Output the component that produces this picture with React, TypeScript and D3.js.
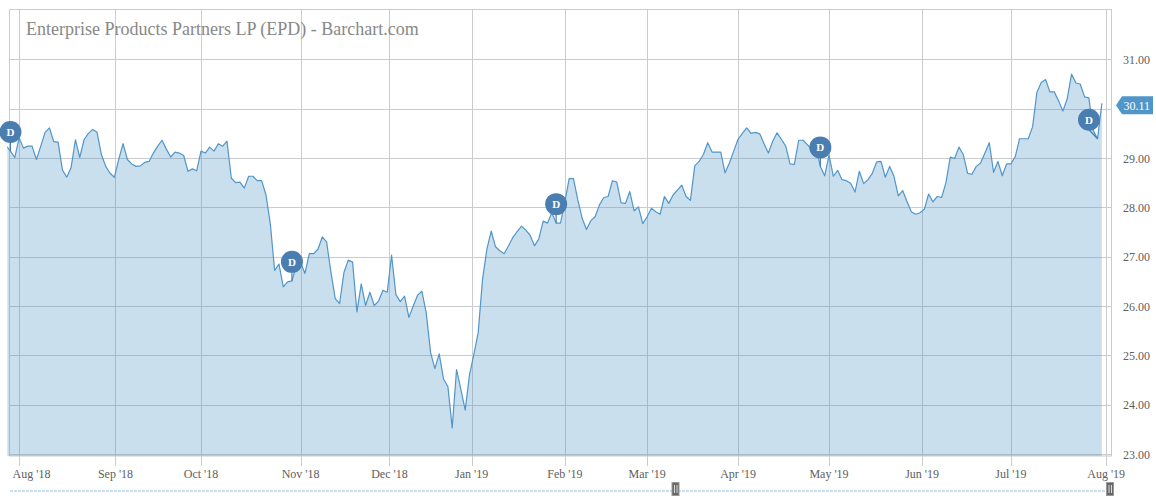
import React from 'react';
import * as d3 from 'd3';

// Daily closes (trading days), Jul 27 2018 .. Jul 31 2019
const prices: number[] = [
  29.25, 29.14, 29.01, 29.41, 29.20, 29.24, 29.24, 28.97, 29.24, 29.52,
  29.61, 29.33, 29.32, 28.76, 28.61, 28.80, 29.37, 29.01, 29.37, 29.50,
  29.58, 29.52, 29.07, 28.83, 28.69, 28.61, 28.97, 29.29, 28.97, 28.88,
  28.83, 28.84, 28.91, 28.93, 29.10, 29.24, 29.36, 29.18, 29.02, 29.12,
  29.10, 29.05, 28.73, 28.78, 28.74, 29.14, 29.10, 29.22, 29.14, 29.29,
  29.24, 29.34, 28.59, 28.50, 28.51, 28.39, 28.63, 28.63, 28.54, 28.54,
  28.25, 27.67, 26.72, 26.85, 26.39, 26.49, 26.51, 26.82, 26.88, 26.66,
  27.06, 27.06, 27.15, 27.40, 27.30, 26.68, 26.15, 26.05, 26.68, 26.93,
  26.89, 25.88, 26.45, 26.01, 26.28, 26.01, 26.10, 26.32, 26.28, 27.03,
  26.23, 26.09, 26.20, 25.77, 26.00, 26.22, 26.30, 25.86, 25.06, 24.73,
  25.03, 24.52, 24.37, 23.53, 24.71, 24.31, 23.89, 24.61, 25.02, 25.46,
  26.54, 27.15, 27.52, 27.20, 27.12, 27.06, 27.22, 27.39, 27.51, 27.62,
  27.54, 27.43, 27.22, 27.36, 27.72, 27.68, 27.89, 27.68, 27.68, 28.10,
  28.58, 28.58, 28.15, 27.78, 27.55, 27.73, 27.81, 28.05, 28.20, 28.22,
  28.54, 28.51, 28.09, 28.08, 28.32, 27.93, 28.01, 27.67, 27.81, 27.98,
  27.91, 27.86, 28.22, 28.08, 28.25, 28.35, 28.45, 28.22, 28.14, 28.84,
  28.93, 29.07, 29.31, 29.12, 29.12, 29.12, 28.70, 28.90, 29.14, 29.38,
  29.50, 29.61, 29.50, 29.52, 29.49, 29.29, 29.10, 29.34, 29.51, 29.38,
  29.24, 28.88, 28.87, 29.36, 29.36, 29.27, 29.17, 29.22, 28.83, 28.64,
  29.06, 28.63, 28.75, 28.56, 28.54, 28.49, 28.31, 28.73, 28.48, 28.56,
  28.69, 28.92, 28.93, 28.61, 28.83, 28.63, 28.23, 28.34, 28.12, 27.91,
  27.86, 27.89, 27.96, 28.27, 28.11, 28.22, 28.20, 28.50, 29.02, 28.99,
  29.22, 29.07, 28.69, 28.67, 28.83, 28.90, 29.10, 29.31, 28.71, 28.93,
  28.64, 28.88, 28.88, 29.03, 29.39, 29.39, 29.39, 29.63, 30.33, 30.53,
  30.59, 30.34, 30.34, 30.16, 29.95, 30.20, 30.70, 30.52, 30.50, 30.24,
  30.22, 29.56, 29.39, 30.11,
];

// Month tick labels and their positions on the trading-day (ordinal) axis
const monthLabels: string[] = [
  "Aug '18", "Sep '18", "Oct '18", "Nov '18", "Dec '18", "Jan '19", "Feb '19",
  "Mar '19", "Apr '19", "May '19", "Jun '19", "Jul '19", "Aug '19",
];
const monthTickIdx: number[] = [3, 25.25, 45, 68, 88.5, 107.5, 129, 148, 169, 190, 211.5, 232, 254];

const yTickValues: number[] = [23, 24, 25, 26, 27, 28, 29, 30, 31];

// Dividend flag positions (trading-day index)
const dividendIdx: number[] = [1, 66, 127, 188, 252];
const dividendLabel = 'D';

const title = 'Enterprise Products Partners LP (EPD) - Barchart.com';
const navigatorSelection: number[] = [0.605, 1];

const FONT = "'Liberation Serif', 'Times New Roman', serif";
const LINE = '#5096c8';
const FLAG = '#4a7db0';
const GRID = '#cccccc';
const LABEL = '#606060';

export default function App() {
  const W = 1156;
  const H = 500;
  const plot = { left: 9.5, right: 1111.5, top: 9.5, bottom: 456, clipLeft: 7.3 };

  const x = d3.scaleLinear().domain([3, 254]).range([19.1, 1106.2]);
  const y = d3.scaleLinear().domain([22.96, 32.02]).range([456, 9]);

  const area = d3
    .area<number>()
    .x((_, i) => x(i))
    .y0(plot.bottom)
    .y1((d) => y(d));
  const line = d3
    .line<number>()
    .x((_, i) => x(i))
    .y((d) => y(d));

  const crisp = (v: number) => Math.round(v) + 0.5;
  const last = prices[prices.length - 1];
  const lastY = y(last) + 2;

  const navLeft = 10;
  const navRight = 1110;
  const navScale = d3.scaleLinear().domain([0, 1]).range([navLeft, navRight]);

  return (
    <svg
      width={W}
      height={H}
      style={{ position: 'absolute', left: 0, top: 0, background: '#fff' }}
      fontFamily={FONT}
    >
      <defs>
        <clipPath id="plotClip">
          <rect x={plot.clipLeft} y={plot.top} width={plot.right - plot.clipLeft} height={plot.bottom - plot.top} />
        </clipPath>
      </defs>

      {/* horizontal grid */}
      {yTickValues.map((v) => (
        <line key={'hg' + v} x1={plot.left} x2={plot.right} y1={crisp(y(v))} y2={crisp(y(v))} stroke={GRID} strokeWidth={1} />
      ))}
      {/* vertical grid + ticks */}
      {monthTickIdx.map((t, i) => (
        <line key={'vg' + i} x1={crisp(x(t))} x2={crisp(x(t))} y1={plot.top} y2={plot.bottom + 10} stroke={GRID} strokeWidth={1} />
      ))}

      {/* frame */}
      <rect x={plot.left} y={plot.top} width={plot.right - plot.left} height={plot.bottom - plot.top} fill="none" stroke={GRID} strokeWidth={1} />

      {/* title */}
      <text x={26} y={35} fontSize={18} fill="#888888">
        {title}
      </text>

      {/* series */}
      <g clipPath="url(#plotClip)">
        <path d={area(prices) || ''} fill={LINE} fillOpacity={0.3} />
        <path d={line(prices) || ''} fill="none" stroke={LINE} strokeWidth={1.2} strokeLinejoin="round" />
      </g>

      {/* dividend flags */}
      {dividendIdx.map((di, k) => {
        const px = x(di);
        const py = y(prices[di]);
        const cx = Math.min(px, plot.right - 22.5);
        const cy = py - 19;
        return (
          <g key={'d' + k}>
            <line x1={cx} y1={cy + 10} x2={px} y2={py} stroke={FLAG} strokeWidth={1.2} />
            <circle cx={cx} cy={cy} r={11} fill={FLAG} />
            <text x={cx} y={cy + 4} textAnchor="middle" fontSize={11} fontWeight="bold" fill="#fff">
              {dividendLabel}
            </text>
          </g>
        );
      })}

      {/* y axis labels */}
      {yTickValues.map((v) => (
        <text key={'yl' + v} x={1123} y={y(v) + 4.5} fontSize={12} fill={LABEL}>
          {v.toFixed(2)}
        </text>
      ))}

      {/* x axis labels */}
      {monthLabels.map((m, i) => {
        const tx = x(monthTickIdx[i]);
        const first = tx - 18 < 12;
        return (
          <text
            key={'xl' + i}
            x={first ? 12.6 : tx}
            y={478}
            fontSize={12}
            fill={LABEL}
            textAnchor={first ? 'start' : 'middle'}
          >
            {m}
          </text>
        );
      })}

      {/* last price label */}
      <path
        d={`M1116,${lastY} L1122,${lastY - 9} L1153,${lastY - 9} L1153,${lastY + 9} L1122,${lastY + 9} Z`}
        fill={LINE}
      />
      <text x={1123.5} y={lastY + 4.5} fontSize={12} fill="#fff">
        {last.toFixed(2)}
      </text>

      {/* navigator */}
      <line x1={navLeft} x2={navRight} y1={491} y2={491} stroke="#c6dff0" strokeWidth={2} strokeDasharray="3,1" />
      {navigatorSelection.map((f, k) => {
        const hx = navScale(f);
        return (
          <g key={'h' + k}>
            <rect x={hx - 3.5} y={482.5} width={7} height={13} fill="#666" stroke="#999" strokeWidth={1} />
            <line x1={hx - 1} x2={hx - 1} y1={485} y2={493} stroke="#ddd" strokeWidth={1} />
            <line x1={hx + 1.5} x2={hx + 1.5} y1={485} y2={493} stroke="#ddd" strokeWidth={1} />
          </g>
        );
      })}
    </svg>
  );
}
